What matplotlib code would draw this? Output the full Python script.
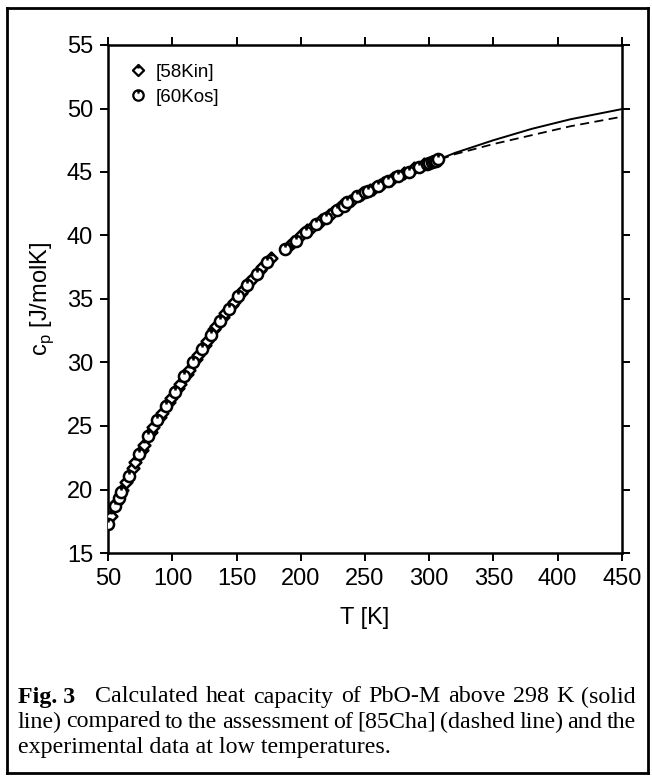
import numpy as np
import matplotlib
matplotlib.use("Agg")
import matplotlib.pyplot as plt
from matplotlib.path import Path
from matplotlib.lines import Line2D

# ---- data ----
kin_T = [52, 56, 61, 64, 69, 71, 76, 78, 83, 85, 90, 92, 97, 99, 104, 106, 111, 113,
         118, 120, 125, 127, 132, 134, 139, 141, 146, 148, 153, 155, 160, 162, 168,
         170, 177, 191, 194, 200, 205, 208, 214, 216, 222, 224, 230, 232, 238, 240,
         246, 248, 254, 256, 262, 264, 270, 272, 280, 288, 296]
kin_cp = [17.9, 18.9, 20.0, 20.6, 21.7, 22.2, 23.1, 23.5, 24.5, 24.9, 25.7, 26.0,
          26.9, 27.2, 28.0, 28.3, 29.1, 29.4, 30.3, 30.6, 31.4, 31.7, 32.6, 32.9,
          33.6, 33.9, 34.5, 34.8, 35.5, 35.7, 36.3, 36.6, 37.3, 37.5, 38.2, 39.2,
          39.5, 40.0, 40.4, 40.6, 41.0, 41.2, 41.6, 41.8, 42.2, 42.4, 42.7, 42.8,
          43.2, 43.3, 43.6, 43.7, 44.0, 44.1, 44.4, 44.5, 44.9, 45.3, 45.6]
kos_T = [50, 55, 58, 60, 66, 74, 81, 88, 95, 102, 109, 116, 123, 130, 137, 144, 151,
         158, 166, 174, 188, 196, 204, 212, 220, 228, 234, 236, 244, 250, 252, 260,
         268, 276, 284, 292, 298, 300, 302, 304, 305, 307]
kos_cp = [17.3, 18.7, 19.3, 19.8, 21.1, 22.8, 24.2, 25.5, 26.6, 27.7, 28.9, 30.0,
          31.1, 32.2, 33.3, 34.2, 35.2, 36.1, 37.0, 37.9, 38.9, 39.6, 40.3, 40.9,
          41.4, 42.0, 42.3, 42.6, 43.1, 43.4, 43.5, 43.9, 44.3, 44.7, 45.0, 45.4,
          45.6, 45.7, 45.8, 45.85, 45.9, 46.0]
calc_T = [298, 320, 350, 380, 410, 450]
calc_cp = [45.6, 46.5, 47.5, 48.4, 49.15, 49.95]
cha_T = [298, 320, 350, 380, 410, 450]
cha_cp = [45.6, 46.4, 47.2, 47.9, 48.6, 49.35]
xticks = [50, 100, 150, 200, 250, 300, 350, 400, 450]
yticks = [15, 20, 25, 30, 35, 40, 45, 50, 55]
legend_labels = ["[58Kin]", "[60Kos]"]
caption_lines = [
    ["Calculated", "heat", "capacity", "of", "PbO-M", "above", "298", "K", "(solid"],
    ["line)", "compared", "to", "the", "assessment", "of", "[85Cha]", "(dashed", "line)", "and", "the"],
    ["experimental", "data", "at", "low", "temperatures."],
]

# ---- custom markers: shape with a small vertical stroke on top ----
def marker_with_tick(base):
    verts = list(base.vertices)
    codes = list(base.codes) if base.codes is not None else [Path.MOVETO] + [Path.LINETO] * (len(verts) - 1)
    verts += [(0, 1.0), (0, 0.35)]
    codes += [Path.MOVETO, Path.LINETO]
    return Path(verts, codes)

circ = Path.unit_circle()
diam = Path([(0, 1), (1, 0), (0, -1), (-1, 0), (0, 1)],
            [Path.MOVETO, Path.LINETO, Path.LINETO, Path.LINETO, Path.CLOSEPOLY])
m_circ = marker_with_tick(circ)
m_diam = marker_with_tick(diam)

sans = ["Liberation Sans", "DejaVu Sans"]
serif = ["Liberation Serif", "DejaVu Serif"]

fig = plt.figure(figsize=(6.52, 7.78), dpi=100)
ax = fig.add_axes([108.3 / 652, 1 - 553 / 778, (621.7 - 108.3) / 652, (553 - 45) / 778])

ax.plot(calc_T, calc_cp, color="black", lw=1.4, zorder=2)
ax.plot(cha_T, cha_cp, color="black", lw=1.3, ls=(0, (5, 3)), zorder=2)
ax.plot(kin_T, kin_cp, ls="none", marker=m_diam, ms=8.5, mfc="white", mec="black",
        mew=1.8, zorder=3)
ax.plot(kos_T, kos_cp, ls="none", marker=m_circ, ms=8, mfc="white", mec="black",
        mew=1.8, zorder=3)

ax.set_xlim(50, 450)
ax.set_ylim(15, 55)
ax.set_xticks(xticks)
ax.set_yticks(yticks)
ax.tick_params(direction="out", length=6, width=1.4, top=True, right=True,
               labelsize=17, pad=5)
for lab in ax.get_xticklabels() + ax.get_yticklabels():
    lab.set_family(sans)
for s in ax.spines.values():
    s.set_linewidth(1.8)
ax.set_xlabel("T [K]", family=sans, fontsize=17, labelpad=12)
ax.set_ylabel(r"c$_\mathregular{p}$ [J/molK]", family=sans, fontsize=17, labelpad=8)

handles = [Line2D([], [], ls="none", marker=m_diam, ms=8, mfc="white", mec="black", mew=1.6),
           Line2D([], [], ls="none", marker=m_circ, ms=7.5, mfc="white", mec="black", mew=1.6)]
leg = ax.legend(handles, legend_labels, loc="upper left", frameon=False,
                prop={"family": sans, "size": 13.5}, handlelength=1.0,
                handletextpad=0.4, labelspacing=0.4, borderaxespad=0.6,
                bbox_to_anchor=(0.004, 1.0))

# ---- outer frame ----
W, H = 652, 778
for (x0, y0, x1, y1) in [(7, 8, 648, 8), (7, 8, 7, 773), (7, 773, 648, 773), (648, 8, 648, 773)]:
    fig.add_artist(Line2D([x0 / W, x1 / W], [1 - y0 / H, 1 - y1 / H], color="black", lw=2,
                          transform=fig.transFigure))

# ---- caption with simple justification ----
renderer = fig.canvas.get_renderer()
fs_cap = 17.3
left_px, right_px = 18, 636
ys = [697, 722, 747]

def width_px(t):
    return t.get_window_extent(renderer=renderer).width

for i, words in enumerate(caption_lines):
    y = 1 - ys[i] / H
    if i == 2:
        fig.text(left_px / W, y, " ".join(words), family=serif, fontsize=fs_cap, va="center")
        continue
    items = []
    if i == 0:
        items.append(fig.text(0, y, "Fig. 3", family=serif, fontsize=fs_cap, weight="bold", va="center"))
    for w in words:
        items.append(fig.text(0, y, w, family=serif, fontsize=fs_cap, va="center"))
    widths = [width_px(t) for t in items]
    gaps = len(items) - 1
    extra_first = 12 if i == 0 else 0
    space = (right_px - left_px - sum(widths) - extra_first) / gaps
    x = left_px
    for k, (t, wd) in enumerate(zip(items, widths)):
        t.set_x(x / W)
        x += wd + space + (extra_first if k == 0 else 0)

fig.savefig("out.png", dpi=100)
